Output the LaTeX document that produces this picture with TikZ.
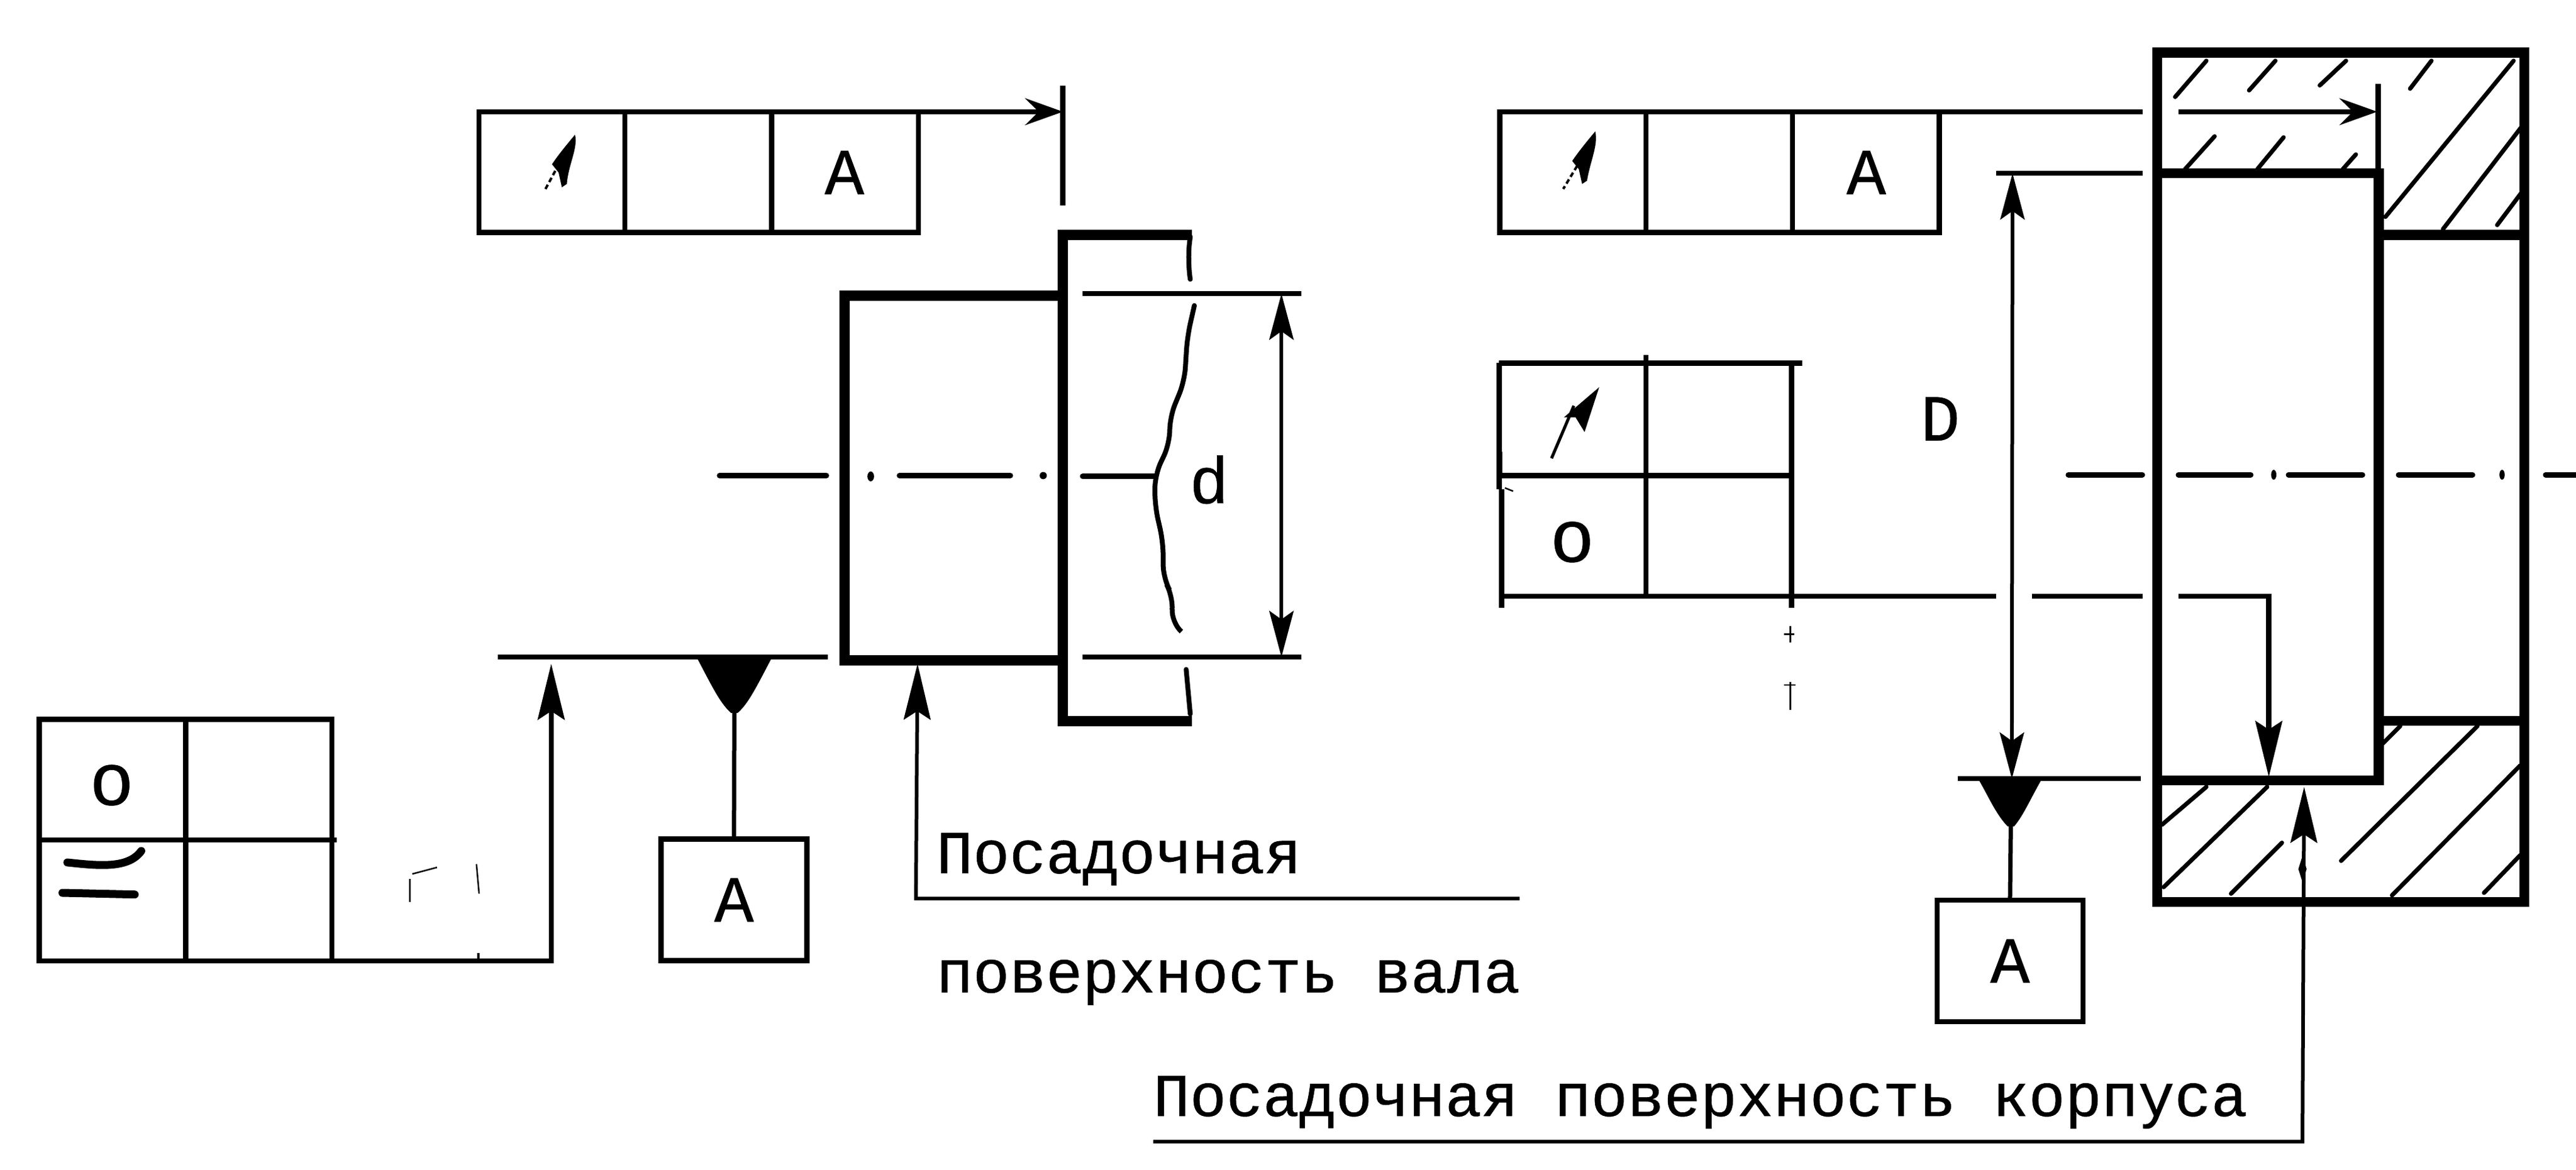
\documentclass[tikz,border=0pt]{standalone}
\usepackage{fontspec}
\setmainfont{Liberation Mono}[FakeBold=0.6]
\usetikzlibrary{arrows.meta}
\tikzset{
 thinl/.style={line width=8.5pt,line cap=butt},
 thickl/.style={line width=16.5pt,line join=miter},
 hatchl/.style={line width=7pt,line cap=round},
 centerl/.style={line width=9pt,line cap=round},
 wavy/.style={line width=8pt,line cap=round,rounded corners=30pt},
 stray/.style={line width=2.5pt},
 lab/.style={inner sep=0pt,font=\fontsize{100}{110}\selectfont},
 let/.style={inner sep=0pt,font=\fontsize{108}{110}\selectfont},
 roundsym/.style={inner sep=0pt,font=\fontsize{122}{120}\selectfont},
 datumbox/.style={draw,line width=8.5pt,minimum width=240pt,minimum height=200pt,inner sep=0pt,outer sep=0pt,font=\fontsize{108}{110}\selectfont},
 longhead/.style={-{Stealth[length=92pt,width=44pt,inset=14pt]}},
 dimhead/.style={{Stealth[length=76pt,width=40pt,inset=14pt]}-{Stealth[length=76pt,width=40pt,inset=14pt]}},
 sidehead/.style={-{Stealth[length=62pt,width=44pt,inset=22pt]}},
}
\begin{document}
\begin{tikzpicture}[x=2.7028pt,y=-2.7028pt]
\useasboundingbox (0,0) rectangle (1568,712.2);
\fill[white] (0,0) rectangle (1568,712.2);

% --- Left view: top frame
\draw[thinl] (291.6,68) rectangle (559,141.5);
\draw[thinl] (380.4,68) -- (380.4,141.5) (469.6,68) -- (469.6,141.5);
\node[let] (ta) at (514,105) {A};
\coordinate (t1end) at (559,68);
\coordinate (ext1) at (647,68);
\draw[thinl,sidehead] (t1end) -- (ext1);
\draw[thinl] (647,52) -- (647,125);
\fill (350,82) .. controls (352,90) and (346,100) .. (345,112) -- (342,114) -- (340,105) -- (336,100) .. controls (340,94) and (345,88) .. (350,82) -- cycle;
\draw[line width=4pt,dash pattern=on 8pt off 5pt] (338,104) -- (331.5,116);

% shaft and flange
\draw[thickl] (647,180) -- (514,180) -- (514,402) -- (647,402);
\draw[thickl] (725.5,143) -- (647,143) -- (647,439) -- (725.5,439);
\draw[wavy] (724.5,144) -- (722.7,159) -- (724.5,170);
\draw[wavy,rounded corners=22pt] (727,186) -- (722.7,205) -- (721,232) -- (712,254) -- (712,270) -- (703,289) -- (703,308) -- (708,330) -- (708,352) -- (714,363) -- (713,379) -- (719,384.4);
\draw[wavy] (722,407.5) -- (724.5,434.6);

% centre line
\draw[centerl] (438,289.5) -- (503,289.5) (547.5,289.5) -- (615,289.5) (659,290) -- (703,290);
\fill (530,290) ellipse (2 and 3) (635,289.5) circle (2.2);

% dimension d
\draw[thinl] (659,178.7) -- (792,178.7) (659,400) -- (792,400) (303,400) -- (504,400);
\coordinate (dtop) at (780,178.7);
\coordinate (dbot) at (780,400);
\draw[line width=6pt,dimhead] (dtop) -- (dbot);
\node[let] (dl) at (736,292) {d};

% bottom-left frame
\draw[thinl] (23.8,437.8) rectangle (202,585);
\draw[thinl] (113,437.8) -- (113,585) (23.8,511.3) -- (205,511.3);
\node[roundsym] (circ1) at (68,478) {o};
\draw[line width=13pt,line cap=round] (41,525) .. controls (60,527) and (78,529) .. (86,518);
\draw[line width=13pt,line cap=round] (38,543.5) -- (82,544.5);
\coordinate (f1r) at (202,585);
\coordinate (f1a) at (335.5,585);
\coordinate (f1tip) at (335.5,404);
\draw[thinl,longhead] (f1r) -- (f1a) -- (f1tip);

% datum A left
\node[datumbox] (boxa) at (446.8,547.8) {A};
\coordinate (d1ap) at (447,432);
\draw[line width=7pt] (boxa.north) -- (d1ap);
\fill (424,400) -- (470,400) .. controls (462,415) and (456,428) .. (449,434) -- (445,434) .. controls (438,428) and (432,415) .. (424,400) -- cycle;

% fit surface leader, shaft
\node[lab,anchor=west] (posad) at (570,523) {Посадочная};
\node[lab,anchor=west] (pov) at (570,598) {поверхность вала};
\coordinate (l1e) at (925,547);
\coordinate (l1k) at (557.5,547);
\coordinate (l1t) at (558.5,404);
\draw[line width=6pt,longhead] (l1e) -- (l1k) -- (l1t);

% stray marks
\draw[stray] (249.5,535) -- (249.5,549) (251,532) -- (266,528) (290,526) -- (291.6,544);
\draw[line width=4pt] (291,580) -- (291,585);

% --- Right view: top frame
\draw[thinl] (913,68) rectangle (1180.5,141.5);
\draw[thinl] (1002,68) -- (1002,141.5) (1091,68) -- (1091,141.5);
\node[let] (ta2) at (1136,105) {A};
\draw[thinl] (1180.5,68) -- (1304,68);
\coordinate (t2s) at (1326,68);
\coordinate (t2e) at (1447,68);
\draw[thinl,sidehead] (t2s) -- (t2e);
\draw[thinl] (1447.5,51) -- (1447.5,105);
\fill (971,80) .. controls (973,88) and (968,98) .. (966,110) -- (963,112) -- (961,103) -- (957,98) .. controls (961,92) and (966,86) .. (971,80) -- cycle;
\draw[line width=4pt,dash pattern=on 8pt off 5pt] (960,101) -- (951.5,115);

% second frame
\draw[thinl] (912.5,221) -- (1097,221);
\draw[thinl] (912.5,221) -- (912.5,298) (914,298) -- (914,370);
\draw[thinl] (1002,216) -- (1002,363) (1090.5,221) -- (1090.5,370);
\draw[thinl] (912.5,289.5) -- (1090.5,289.5);
\node[roundsym] (circ2) at (957,330) {o};
\draw[line width=5pt] (944.4,279) -- (958,247);
\fill (973.4,235.7) -- (964.5,263) -- (959,254) -- (952,254) -- cycle;
\draw[stray] (914,275) -- (914,289) (916,297) -- (921,299);
\draw[thinl] (912.5,363) -- (1215,363) (1237,363) -- (1304,363);
\coordinate (f2s) at (1326,363);
\coordinate (f2k) at (1381,363);
\coordinate (f2t) at (1381,473);
\draw[thinl,longhead] (f2s) -- (f2k) -- (f2t);
\draw[stray] (1089.8,381) -- (1089.8,391) (1086,386) -- (1092,386) (1089.8,415) -- (1089.8,432) (1086,417) -- (1093,417);

\node[let] (dD) at (1181,255) {D};

% housing
\draw[thickl] (1313,32) rectangle (1536.5,549);
\draw[thickl] (1313,105.5) -- (1448,105.5) -- (1448,475) -- (1313,475);
\draw[thickl] (1448,143) -- (1536.5,143) (1448,438.8) -- (1536.5,438.8);
% hatching
\draw[hatchl] (1324,59) -- (1343,37) (1369,55) -- (1385,37) (1412,52) -- (1428,37) (1467,54) -- (1480,37)
 (1452,132) -- (1530,37) (1487,139.5) -- (1535,77) (1520,137) -- (1535,117)
 (1330,103) -- (1348,83) (1374,103) -- (1390,83.6) (1426,103) -- (1434,94);
\draw[hatchl] (1316,502) -- (1343,479) (1317,540) -- (1380,479) (1358,544) -- (1389,513)
 (1425,524) -- (1508,442) (1456,545) -- (1534,466) (1512,543.5) -- (1534,520.6) (1450,453) -- (1461,442);

% centre line
\draw[centerl] (1259,289) -- (1304,289) (1326,289) -- (1370,289) (1393,289) -- (1438,289) (1460,289) -- (1505,289) (1549.5,289) -- (1568,289);
\fill (1384,289) ellipse (1.6 and 3) (1523,289) ellipse (1.6 and 3);

% dimension D
\draw[thinl] (1215,105.5) -- (1304,105.5);
\draw[thinl] (1191.7,474) -- (1303,474);
\coordinate (Dt) at (1225,105.5);
\coordinate (Db) at (1224.6,474);
\draw[line width=6pt,dimhead] (Dt) -- (Db);

% datum A right
\node[datumbox] (boxb) at (1223.5,585) {A};
\coordinate (d2ap) at (1224,501);
\draw[line width=7pt] (boxb.north) -- (d2ap);
\fill (1204,474) -- (1243,474) .. controls (1237,484) and (1232,496) .. (1226,503) -- (1222,503) .. controls (1215,496) and (1210,484) .. (1204,474) -- cycle;

% fit surface leader, housing
\node[lab,anchor=west] (posad2) at (702,671) {Посадочная поверхность корпуса};
\coordinate (l2e) at (702,695);
\coordinate (l2k) at (1401.5,695);
\coordinate (l2t) at (1402.5,479);
\draw[line width=6pt,longhead] (l2e) -- (l2k) -- (l2t);
\fill (1401.5,521) -- (1404,529) -- (1401.5,537) -- (1399,529) -- cycle;
\end{tikzpicture}
\end{document}
